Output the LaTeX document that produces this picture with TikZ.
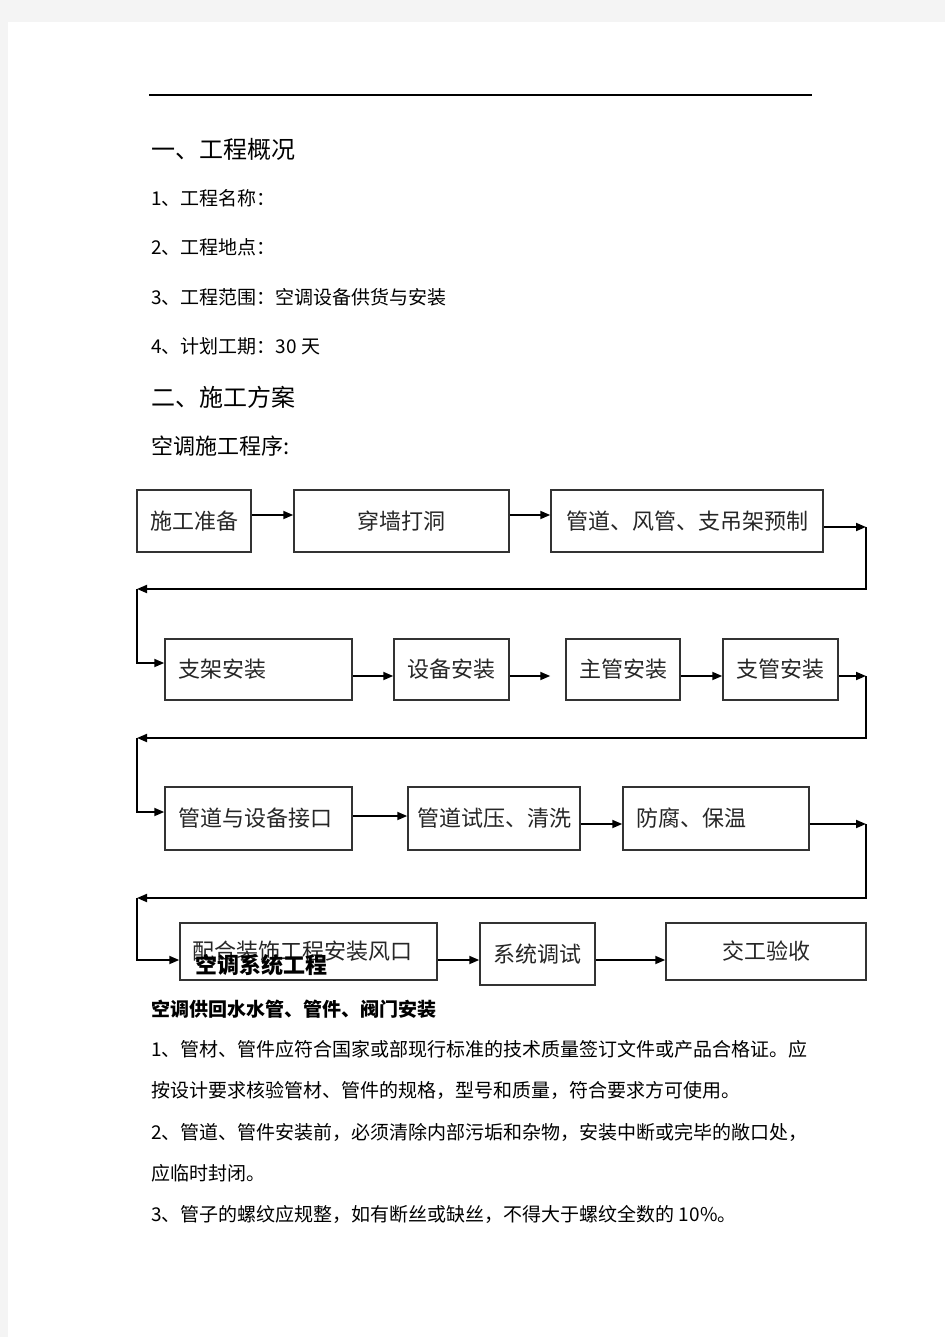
\documentclass[tikz,border=0pt]{standalone}
\usepackage{fontspec}
\setmainfont{Noto Sans CJK SC}
\usetikzlibrary{arrows.meta}
\definecolor{pagegray}{HTML}{F4F4F4}
\definecolor{boxline}{HTML}{333333}
\definecolor{boxtext}{HTML}{262626}

\begin{document}
\begin{tikzpicture}[x=1pt, y=-1pt,
	stepbox/.style={draw=boxline, line width=1.5pt, inner sep=0pt, text=boxtext, font=\fontsize{22}{26}\selectfont},
	leftbox/.style={stepbox, align=left, inner xsep=13pt},
	flow/.style={line width=1.8pt, -{Triangle[length=10pt, width=8pt]}},
	txt/.style={anchor=west, inner sep=0pt, font=\fontsize{19}{23}\selectfont},
	head/.style={anchor=west, inner sep=0pt, font=\fontsize{24}{28}\selectfont}]
		% \draw[help lines] (0,0) grid (945,1337);
		\useasboundingbox (0,0) rectangle (945,1337);
		\fill[pagegray] (0,0) rectangle (945,1337);
		\fill[white] (8,22) rectangle (945,1337);
		\draw[line width=1.5pt] (149,95) -- (812,95);

		\node[head] (sec1) at (151,149) {一、工程概况};
		\node[txt] (name) at (151,198) {1、工程名称：};
		\node[txt] (site) at (151,247) {2、工程地点：};
		\node[txt] (scope) at (151,297) {3、工程范围：空调设备供货与安装};
		\node[txt] (period) at (151,346) {4、计划工期：30 天};
		\node[head] (sec2) at (151,397) {二、施工方案};
		\node[txt, font=\fontsize{22}{26}\selectfont] (order) at (151,446) {空调施工程序:};

		\node[stepbox, minimum width=114pt, minimum height=62pt] (prep) at (194,521) {施工准备};
		\node[stepbox, minimum width=215pt, minimum height=62pt] (hole) at (401.5,521) {穿墙打洞};
		\node[stepbox, minimum width=272pt, minimum height=62pt] (prefab) at (687,521) {管道、风管、支吊架预制};

		\node[leftbox, text width=161pt, minimum height=61pt] (bracket) at (258.5,669.5) {支架安装};
		\node[stepbox, minimum width=115pt, minimum height=61pt] (equip) at (451.5,669.5) {设备安装};
		\node[stepbox, minimum width=114pt, minimum height=61pt] (mainp) at (623,669.5) {主管安装};
		\node[stepbox, minimum width=115pt, minimum height=61pt] (branch) at (780.5,669.5) {支管安装};

		\node[leftbox, text width=161pt, minimum height=63pt] (joint) at (258.5,818.5) {管道与设备接口};
		\node[stepbox, minimum width=172pt, minimum height=63pt] (test) at (494,818.5) {管道试压、清洗};
		\node[leftbox, text width=160pt, minimum height=63pt] (insul) at (716,818.5) {防腐、保温};

		\node[leftbox, inner xsep=12pt, text width=233pt, minimum height=57pt] (vent) at (308.5,951.5) {配合装饰工程安装风口};
		\node[stepbox, minimum width=115pt, minimum height=62pt] (debug) at (537.5,954) {系统调试};
		\node[stepbox, minimum width=200pt, minimum height=57pt] (accept) at (766,951.5) {交工验收};

		\coordinate (r1) at (0,515);
		\coordinate (t1) at (866,527);
		\coordinate (b1) at (137,589);
		\coordinate (e1) at (0,663);
		\draw[flow] (prep.east |- r1) -- (hole.west |- r1);
		\draw[flow] (hole.east |- r1) -- (prefab.west |- r1);
		\draw[flow] (prefab.east |- t1) -- (t1);
		\draw[flow] (t1) |- (b1);
		\draw[flow] (b1) |- (bracket.west |- e1);

		\coordinate (r2) at (0,676);
		\coordinate (t2) at (866,676);
		\coordinate (b2) at (137,738);
		\coordinate (e2) at (0,812);
		\draw[flow] (bracket.east |- r2) -- (equip.west |- r2);
		\draw[flow, shorten >=15pt] (equip.east |- r2) -- (mainp.west |- r2);
		\draw[flow] (mainp.east |- r2) -- (branch.west |- r2);
		\draw[flow] (branch.east |- t2) -- (t2);
		\draw[flow] (t2) |- (b2);
		\draw[flow] (b2) |- (joint.west |- e2);

		\coordinate (r3) at (0,816);
		\coordinate (t3) at (866,824);
		\coordinate (b3) at (137,898);
		\coordinate (e3) at (0,960);
		\draw[flow] (joint.east |- r3) -- (test.west |- r3);
		\draw[flow] (test.east |- t3) -- (insul.west |- t3);
		\draw[flow] (insul.east |- t3) -- (t3);
		\draw[flow] (t3) |- (b3);
		\draw[flow] (b3) |- (vent.west |- e3);

		\draw[flow] (vent.east |- e3) -- (debug.west |- e3);
		\draw[flow] (debug.east |- e3) -- (accept.west |- e3);

		\node[txt, font=\fontsize{22}{26}\selectfont\bfseries] (system) at (195,965) {空调系统工程};
		\node[txt, font=\fontsize{19}{23}\selectfont\bfseries] (water) at (151,1009) {空调供回水水管、管件、阀门安装};
		\node[txt] (p1) at (151,1049) {1、管材、管件应符合国家或部现行标准的技术质量签订文件或产品合格证。应};
		\node[txt] (p1b) at (151,1090) {按设计要求核验管材、管件的规格，型号和质量，符合要求方可使用。};
		\node[txt] (p2) at (151,1132) {2、管道、管件安装前，必须清除内部污垢和杂物，安装中断或完毕的敞口处，};
		\node[txt] (p2b) at (151,1173) {应临时封闭。};
		\node[txt] (p3) at (151,1214) {3、管子的螺纹应规整，如有断丝或缺丝，不得大于螺纹全数的 10\%。};
	\end{tikzpicture}
\end{document}
